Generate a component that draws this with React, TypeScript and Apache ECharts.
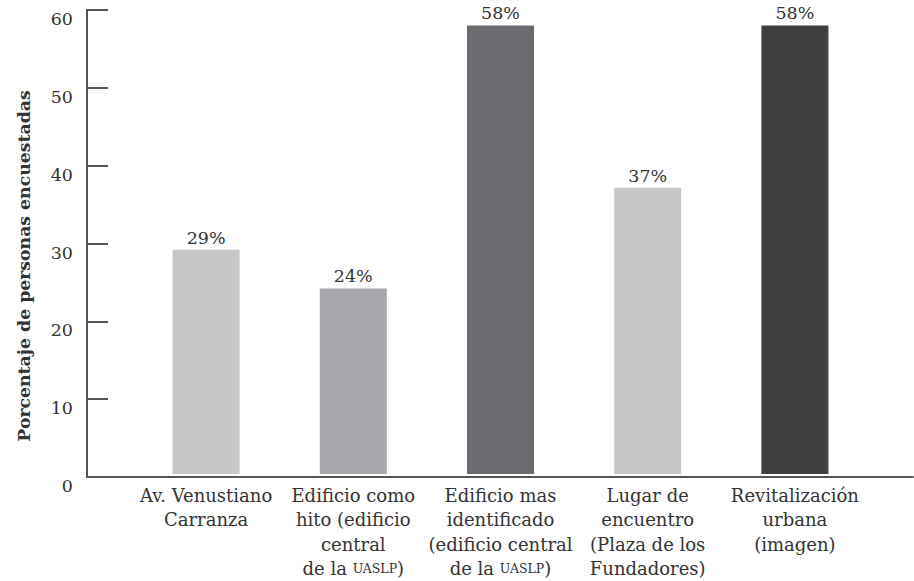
import React, { useEffect, useRef } from "react";
import * as echarts from "echarts";

const categories = [
  "Av. Venustiano\nCarranza",
  "Edificio como\nhito (edificio\ncentral\nde la {sc|UASLP})",
  "Edificio mas\nidentificado\n(edificio central\nde la {sc|UASLP})",
  "Lugar de\nencuentro\n(Plaza de los\nFundadores)",
  "Revitalización\nurbana\n(imagen)",
];
const values = [29, 24, 58, 37, 58];
const barColors = ["#c6c7c9", "#a7a8ab", "#6a6b6f", "#c6c7c9", "#3f3f3f"];
const yAxisName = "Porcentaje de personas encuestadas";

const FONT = "'DejaVu Serif', 'Liberation Serif', serif";
const TEXT = "#333333";
const AXIS = "#555555";

export default function App() {
  const ref = useRef<HTMLDivElement>(null);
  useEffect(() => {
    if (!ref.current) return;
    const chart = echarts.init(ref.current, null, { renderer: "svg" });
    chart.setOption({
      animation: false,
      backgroundColor: "#ffffff",
      textStyle: { fontFamily: FONT },
      grid: [
        { left: 87, right: 1, top: 10, bottom: 104 },
        { left: 132.5, right: 45.5, top: 10, bottom: 104 },
      ],
      graphic: [
        {
          type: "text",
          x: 24,
          y: 266,
          rotation: Math.PI / 2,
          style: {
            text: yAxisName,
            fontFamily: FONT,
            fontWeight: "bold",
            fontSize: 17.3,
            fill: TEXT,
            align: "center",
            verticalAlign: "middle",
          },
        },
      ],
      xAxis: [
        {
          gridIndex: 0,
          type: "value",
          min: 0,
          max: 1,
          axisLine: { show: true, lineStyle: { color: AXIS, width: 2 } },
          axisTick: { show: false },
          axisLabel: { show: false },
          splitLine: { show: false },
        },
        {
          gridIndex: 1,
          type: "category",
          data: categories,
          axisLine: { show: false },
          axisTick: { show: false },
          axisLabel: {
            interval: 0,
            margin: 9,
            color: TEXT,
            fontFamily: FONT,
            fontSize: 18,
            lineHeight: 24.5,
            align: "center",
            rich: {
              sc: { fontFamily: FONT, fontSize: 12.5, lineHeight: 24.5, color: TEXT },
            },
          },
        },
      ],
      yAxis: [
        {
          gridIndex: 0,
          type: "value",
          min: 0,
          max: 60,
          interval: 10,
          axisLine: { show: true, lineStyle: { color: AXIS, width: 2 } },
          axisTick: { show: true, inside: true, length: 21, lineStyle: { color: AXIS, width: 2 } },
          axisLabel: {
            color: TEXT,
            fontFamily: FONT,
            fontSize: 17.5,
            margin: 14,
            verticalAlign: "top",
          },
          splitLine: { show: false },
        },
        {
          gridIndex: 1,
          type: "value",
          min: 0,
          max: 60,
          interval: 10,
          show: false,
          splitLine: { show: false },
        },
      ],
      series: [
        {
          type: "bar",
          xAxisIndex: 1,
          yAxisIndex: 1,
          barWidth: 67,
          data: values.map((v, i) => ({ value: v, itemStyle: { color: barColors[i] } })),
          label: {
            show: true,
            position: "top",
            distance: 3,
            formatter: "{c}%",
            color: TEXT,
            fontFamily: FONT,
            fontSize: 17.5,
          },
        },
      ],
    });
    return () => chart.dispose();
  }, []);
  return <div ref={ref} style={{ width: 914, height: 581, position: "absolute", left: 0, top: 0 }} />;
}
